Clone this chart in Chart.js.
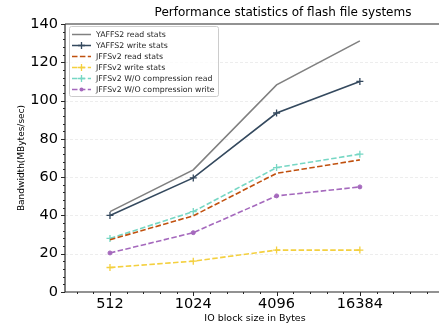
<!DOCTYPE html>
<html>
<head>
<meta charset="utf-8">
<script src="https://cdn.jsdelivr.net/npm/chart.js@4"></script>
<style>
  body { margin: 0; background: #fff; }
  canvas { display: block; }
</style>
</head>
<body>
<canvas id="myChart" width="439" height="327"></canvas>
<script>
const blockSizes = ['512', '1024', '4096', '16384'];
const yaffsRead = [42, 63.8, 108.2, 131.2];
const yaffsWrite = [40, 59.6, 93.5, 110];
const jffsRead = [27.3, 39.8, 62, 69];
const jffsWrite = [12.8, 16.1, 21.9, 21.9];
const jffsNoCompRead = [28, 42, 65, 72];
const jffsNoCompWrite = [20.4, 31, 50.2, 54.9];
const yTicks = [0, 20, 40, 60, 80, 100, 120, 140];

const font = 'DejaVu Sans';
const toPoints = arr => arr.map((v, i) => ({ x: i, y: v }));

const series = [
    { label: 'YAFFS2 read stats', data: yaffsRead, color: '#808080', dash: [], marker: false },
    { label: 'YAFFS2 write stats', data: yaffsWrite, color: '#34495e', dash: [], marker: 'cross' },
    { label: 'JFFSv2 read stats', data: jffsRead, color: '#c0500e', dash: [5.5, 2.4], marker: false },
    { label: 'JFFSv2 write stats', data: jffsWrite, color: '#f4d03f', dash: [5.5, 2.4], marker: 'cross' },
    { label: 'JFFSv2 W/O compression read', data: jffsNoCompRead, color: '#76d7c4', dash: [5.5, 2.4], marker: 'cross' },
    { label: 'JFFSv2 W/O compression write', data: jffsNoCompWrite, color: '#a569bd', dash: [5.5, 2.4], marker: 'circle' }
];

const datasets = series.map(s => ({
    label: s.label,
    data: toPoints(s.data),
    borderColor: s.color,
    backgroundColor: s.color,
    borderWidth: 1.6,
    borderDash: s.dash,
    pointStyle: s.marker || 'circle',
    pointRadius: s.marker === 'cross' ? 3.5 : (s.marker === 'circle' ? 2 : 0),
    pointBorderWidth: s.marker === 'cross' ? 1.3 : 1,
    tension: 0
}));

const axisColor = '#262626';

const decorations = {
    id: 'decorations',
    beforeDatasetsDraw(chart) {
        const { ctx, chartArea: a, scales: { x, y } } = chart;
        ctx.save();
        ctx.strokeStyle = '#e8e8e8';
        ctx.lineWidth = 0.8;
        ctx.setLineDash([3, 2]);
        yTicks.forEach(t => {
            if (t === 0 || t === 140) return;
            const py = Math.round(y.getPixelForValue(t)) + 0.5;
            ctx.beginPath();
            ctx.moveTo(a.left, py);
            ctx.lineTo(a.right, py);
            ctx.stroke();
        });
        ctx.restore();
    },
    afterDraw(chart) {
        const { ctx, chartArea: a, scales: { x, y } } = chart;
        ctx.save();
        // spines
        ctx.strokeStyle = axisColor;
        ctx.lineWidth = 1.2;
        ctx.beginPath();
        ctx.moveTo(a.left, a.top);
        ctx.lineTo(a.right, a.top);
        ctx.moveTo(a.left, a.top);
        ctx.lineTo(a.left, a.bottom);
        ctx.lineTo(a.right, a.bottom);
        ctx.stroke();

        // ticks
        ctx.lineWidth = 1;
        ctx.beginPath();
        for (let v = 0; v <= 140; v += 4) {
            const py = Math.round(y.getPixelForValue(v)) + 0.5;
            const len = v % 20 === 0 ? 4 : 2;
            ctx.moveTo(a.left - len, py);
            ctx.lineTo(a.left, py);
        }
        for (let k = -2; k <= 19; k++) {
            const px = Math.round(x.getPixelForValue(k * 0.2)) + 0.5;
            const len = k % 5 === 0 ? 4 : 2;
            ctx.moveTo(px, a.bottom);
            ctx.lineTo(px, a.bottom + len);
        }
        ctx.stroke();

        // titles
        ctx.fillStyle = '#000';
        ctx.textAlign = 'center';
        ctx.textBaseline = 'middle';
        ctx.font = '12px "' + font + '"';
        ctx.fillText('Performance statistics of flash file systems', 283, 13);
        ctx.font = '9.5px "' + font + '"';
        ctx.fillText('IO block size in Bytes', 255, 319);
        ctx.font = '9px "' + font + '"';
        ctx.save();
        ctx.translate(22, (a.top + a.bottom) / 2);
        ctx.rotate(-Math.PI / 2);
        ctx.fillText('Bandwidth(MBytes/sec)', 0, 0);
        ctx.restore();

        // legend
        const lx = 69, ly = 26, lw = 149, lh = 70;
        ctx.fillStyle = 'rgba(255,255,255,0.8)';
        ctx.strokeStyle = '#cccccc';
        ctx.lineWidth = 1;
        ctx.setLineDash([]);
        ctx.beginPath();
        ctx.roundRect(lx + 0.5, ly + 0.5, lw, lh, 2);
        ctx.fill();
        ctx.stroke();
        ctx.font = '7.8px "' + font + '"';
        ctx.textAlign = 'left';
        series.forEach((s, i) => {
            const ry = 34.5 + i * 11;
            ctx.strokeStyle = s.color;
            ctx.fillStyle = s.color;
            ctx.lineWidth = 1.5;
            ctx.setLineDash(s.dash);
            ctx.beginPath();
            ctx.moveTo(72, ry);
            ctx.lineTo(91, ry);
            ctx.stroke();
            ctx.setLineDash([]);
            const mx = 81.5;
            if (s.marker === 'cross') {
                ctx.lineWidth = 1.3;
                ctx.beginPath();
                ctx.moveTo(mx - 3.5, ry); ctx.lineTo(mx + 3.5, ry);
                ctx.moveTo(mx, ry - 3.5); ctx.lineTo(mx, ry + 3.5);
                ctx.stroke();
            } else if (s.marker === 'circle') {
                ctx.beginPath();
                ctx.arc(mx, ry, 2, 0, Math.PI * 2);
                ctx.fill();
            }
            ctx.fillStyle = '#262626';
            ctx.fillText(s.label, 96, ry);
        });
        ctx.restore();
    }
};

const ctx = document.getElementById('myChart').getContext('2d');
const myChart = new Chart(ctx, {
    type: 'line',
    data: { datasets: datasets },
    options: {
        responsive: false,
        animation: false,
        layout: { autoPadding: false, padding: { top: 24, right: 0, bottom: 0, left: 0 } },
        scales: {
            x: {
                type: 'linear',
                min: -0.54,
                max: 3.95,
                grid: { display: false, drawTicks: false },
                border: { display: false },
                afterBuildTicks: scale => {
                    scale.ticks = blockSizes.map((c, i) => ({ value: i }));
                },
                afterFit: scale => {
                    scale.height = 35;
                },
                ticks: {
                    autoSkip: false,
                    maxRotation: 0,
                    padding: 4,
                    color: '#000',
                    font: { family: font, size: 14.5 },
                    callback: v => blockSizes[v]
                }
            },
            y: {
                min: 0,
                max: 140,
                grid: { display: false, drawTicks: false },
                border: { display: false },
                afterBuildTicks: scale => {
                    scale.ticks = yTicks.map(v => ({ value: v }));
                },
                afterFit: scale => {
                    scale.width = 65;
                },
                ticks: {
                    padding: 7,
                    color: '#000',
                    font: { family: font, size: 14.5 }
                }
            }
        },
        plugins: {
            legend: { display: false },
            tooltip: { enabled: false }
        }
    },
    plugins: [decorations]
});
</script>
</body>
</html>
